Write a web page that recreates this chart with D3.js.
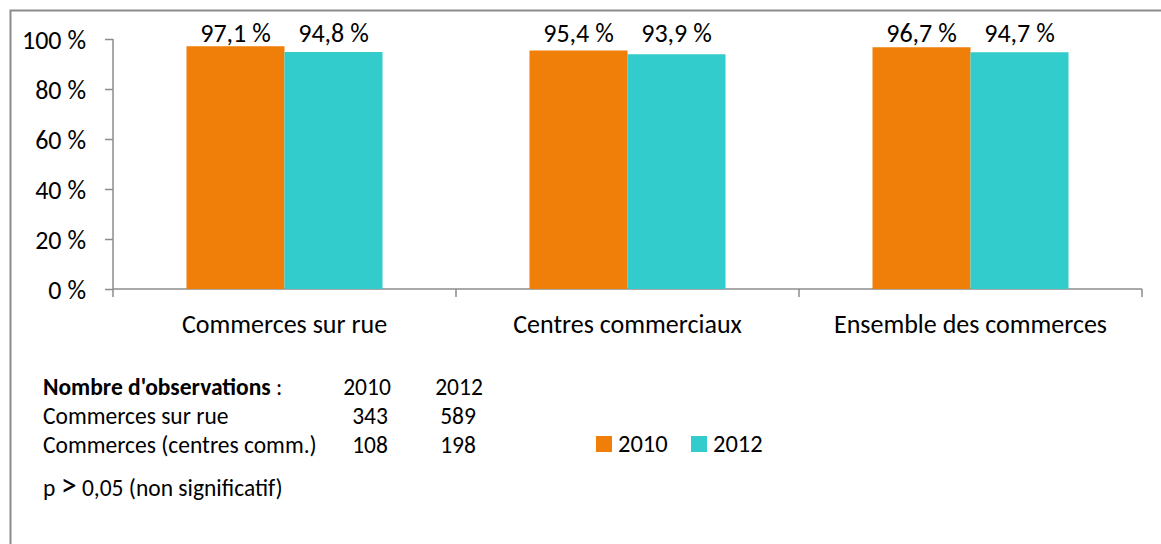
<!DOCTYPE html>
<html>
<head>
<meta charset="utf-8">
<script src="https://cdn.jsdelivr.net/npm/d3@7"></script>
<style>
  body { margin: 0; background: #fff; }
  text { font-family: Carlito, Lato, "Open Sans", sans-serif; fill: #000; }
</style>
</head>
<body>
<div id="chart"></div>
<script>
// data
var categories = ["Commerces sur rue", "Centres commerciaux", "Ensemble des commerces"];
var years = ["2010", "2012"];
var values2010 = [97.1, 95.4, 96.7];
var values2012 = [94.8, 93.9, 94.7];
var yTicks = [0, 20, 40, 60, 80, 100];
var obsRows = ["Commerces sur rue", "Commerces (centres comm.)"];
var obs2010 = [343, 108];
var obs2012 = [589, 198];

var colors = { "2010": "#F07F09", "2012": "#33CCCC" };

var svgWidth = 1161;
var svgHeight = 544;

var margin = { top: 39, left: 113, right: 19, bottom: 255 };
var width = svgWidth - margin.left - margin.right;
var height = svgHeight - margin.top - margin.bottom;

var svg = d3.select("#chart")
  .append("svg")
  .attr("width", svgWidth)
  .attr("height", svgHeight);

// outer frame (right and bottom edges run off the picture)
svg.append("rect")
  .attr("x", 10.5)
  .attr("y", 10.5)
  .attr("width", svgWidth + 20)
  .attr("height", svgHeight + 20)
  .attr("fill", "none")
  .attr("stroke", "#8c8c8c")
  .attr("stroke-width", 2);

var chartGroup = svg.append("g")
  .attr("transform", `translate(${margin.left}, ${margin.top})`);

// gap width 150% -> each bar is 1/3.5 of the category slot
var step = width / categories.length;
var barW = step / 3.5;

var x1 = d3.scaleBand()
  .domain(years)
  .range([0, barW * 2]);

var yScale = d3.scaleLinear()
  .domain([0, 100])
  .range([height, 0]);

// y axis
var leftAxis = d3.axisLeft(yScale)
  .tickValues(yTicks)
  .tickSize(8)
  .tickPadding(19)
  .tickFormat(d => d + " %");

var yAxis = chartGroup.append("g")
  .call(leftAxis);
yAxis.select(".domain").attr("stroke", "#8c8c8c").attr("stroke-width", 1.5).attr("d", `M0,0V${height}`);
yAxis.selectAll(".tick line").attr("stroke", "#8c8c8c").attr("stroke-width", 1.5);
yAxis.selectAll(".tick text").attr("font-size", "26px").attr("dy", "0.35em");

// x axis with ticks between categories
var xBorders = d3.scaleLinear().domain([0, categories.length]).range([0, width]);
var xAxis = chartGroup.append("g")
  .attr("transform", `translate(0, ${height})`);
xAxis.append("path")
  .attr("d", `M0,0H${width}`)
  .attr("stroke", "#8c8c8c")
  .attr("stroke-width", 1.5);
xAxis.selectAll(".xtick")
  .data(d3.range(categories.length + 1))
  .enter()
  .append("line")
  .attr("x1", d => xBorders(d))
  .attr("x2", d => xBorders(d))
  .attr("y1", 0)
  .attr("y2", 8)
  .attr("stroke", "#8c8c8c")
  .attr("stroke-width", 1.5);
xAxis.selectAll(".xlabel")
  .data(categories)
  .enter()
  .append("text")
  .attr("x", (d, i) => xBorders(i + 0.5))
  .attr("y", 44)
  .attr("text-anchor", "middle")
  .attr("font-size", "26px")
  .text(d => d);

// bars
var rows = [];
categories.forEach(function(c, i) {
  rows.push({ cat: c, year: "2010", value: values2010[i] });
  rows.push({ cat: c, year: "2012", value: values2012[i] });
});

function barX(d) {
  var i = categories.indexOf(d.cat);
  return xBorders(i + 0.5) - barW + x1(d.year);
}

chartGroup.selectAll("rect.bar")
  .data(rows)
  .enter()
  .append("rect")
  .attr("class", "bar")
  .attr("x", d => barX(d))
  .attr("y", d => yScale(d.value))
  .attr("width", x1.bandwidth())
  .attr("height", d => height - yScale(d.value))
  .attr("fill", d => colors[d.year]);

// value labels
chartGroup.selectAll("text.val")
  .data(rows)
  .enter()
  .append("text")
  .attr("class", "val")
  .attr("x", d => barX(d) + x1.bandwidth() / 2)
  .attr("y", yScale(100) + 3)
  .attr("text-anchor", "middle")
  .attr("font-size", "26px")
  .text(d => d3.format(".1f")(d.value).replace(".", ",") + " %");

// observations table
var tableG = svg.append("g").attr("font-size", "23.5px");
var head = tableG.append("text").attr("x", 43).attr("y", 395);
head.append("tspan").attr("font-weight", "bold").text("Nombre d'observations");
head.append("tspan").text(" :");
tableG.append("text").attr("x", 367).attr("y", 395).attr("text-anchor", "middle").text(years[0]);
tableG.append("text").attr("x", 459).attr("y", 395).attr("text-anchor", "middle").text(years[1]);

obsRows.forEach(function(r, i) {
  var yy = 424 + i * 29;
  tableG.append("text").attr("x", 43).attr("y", yy).text(r);
  tableG.append("text").attr("x", 370).attr("y", yy).attr("text-anchor", "middle").text(obs2010[i]);
  tableG.append("text").attr("x", 458).attr("y", yy).attr("text-anchor", "middle").text(obs2012[i]);
});

var pText = tableG.append("text").attr("x", 43).attr("y", 496);
pText.append("tspan").text("p ");
pText.append("tspan").attr("font-size", "32px").text(">");
pText.append("tspan").text(" 0,05 (non significatif)");

// legend
var legend = svg.append("g");
years.forEach(function(yr, i) {
  var lx = 596 + i * 95;
  legend.append("rect")
    .attr("x", lx)
    .attr("y", 436)
    .attr("width", 16)
    .attr("height", 16)
    .attr("fill", colors[yr]);
  legend.append("text")
    .attr("x", lx + 22)
    .attr("y", 452)
    .attr("font-size", "24.5px")
    .text(yr);
});
</script>
</body>
</html>
